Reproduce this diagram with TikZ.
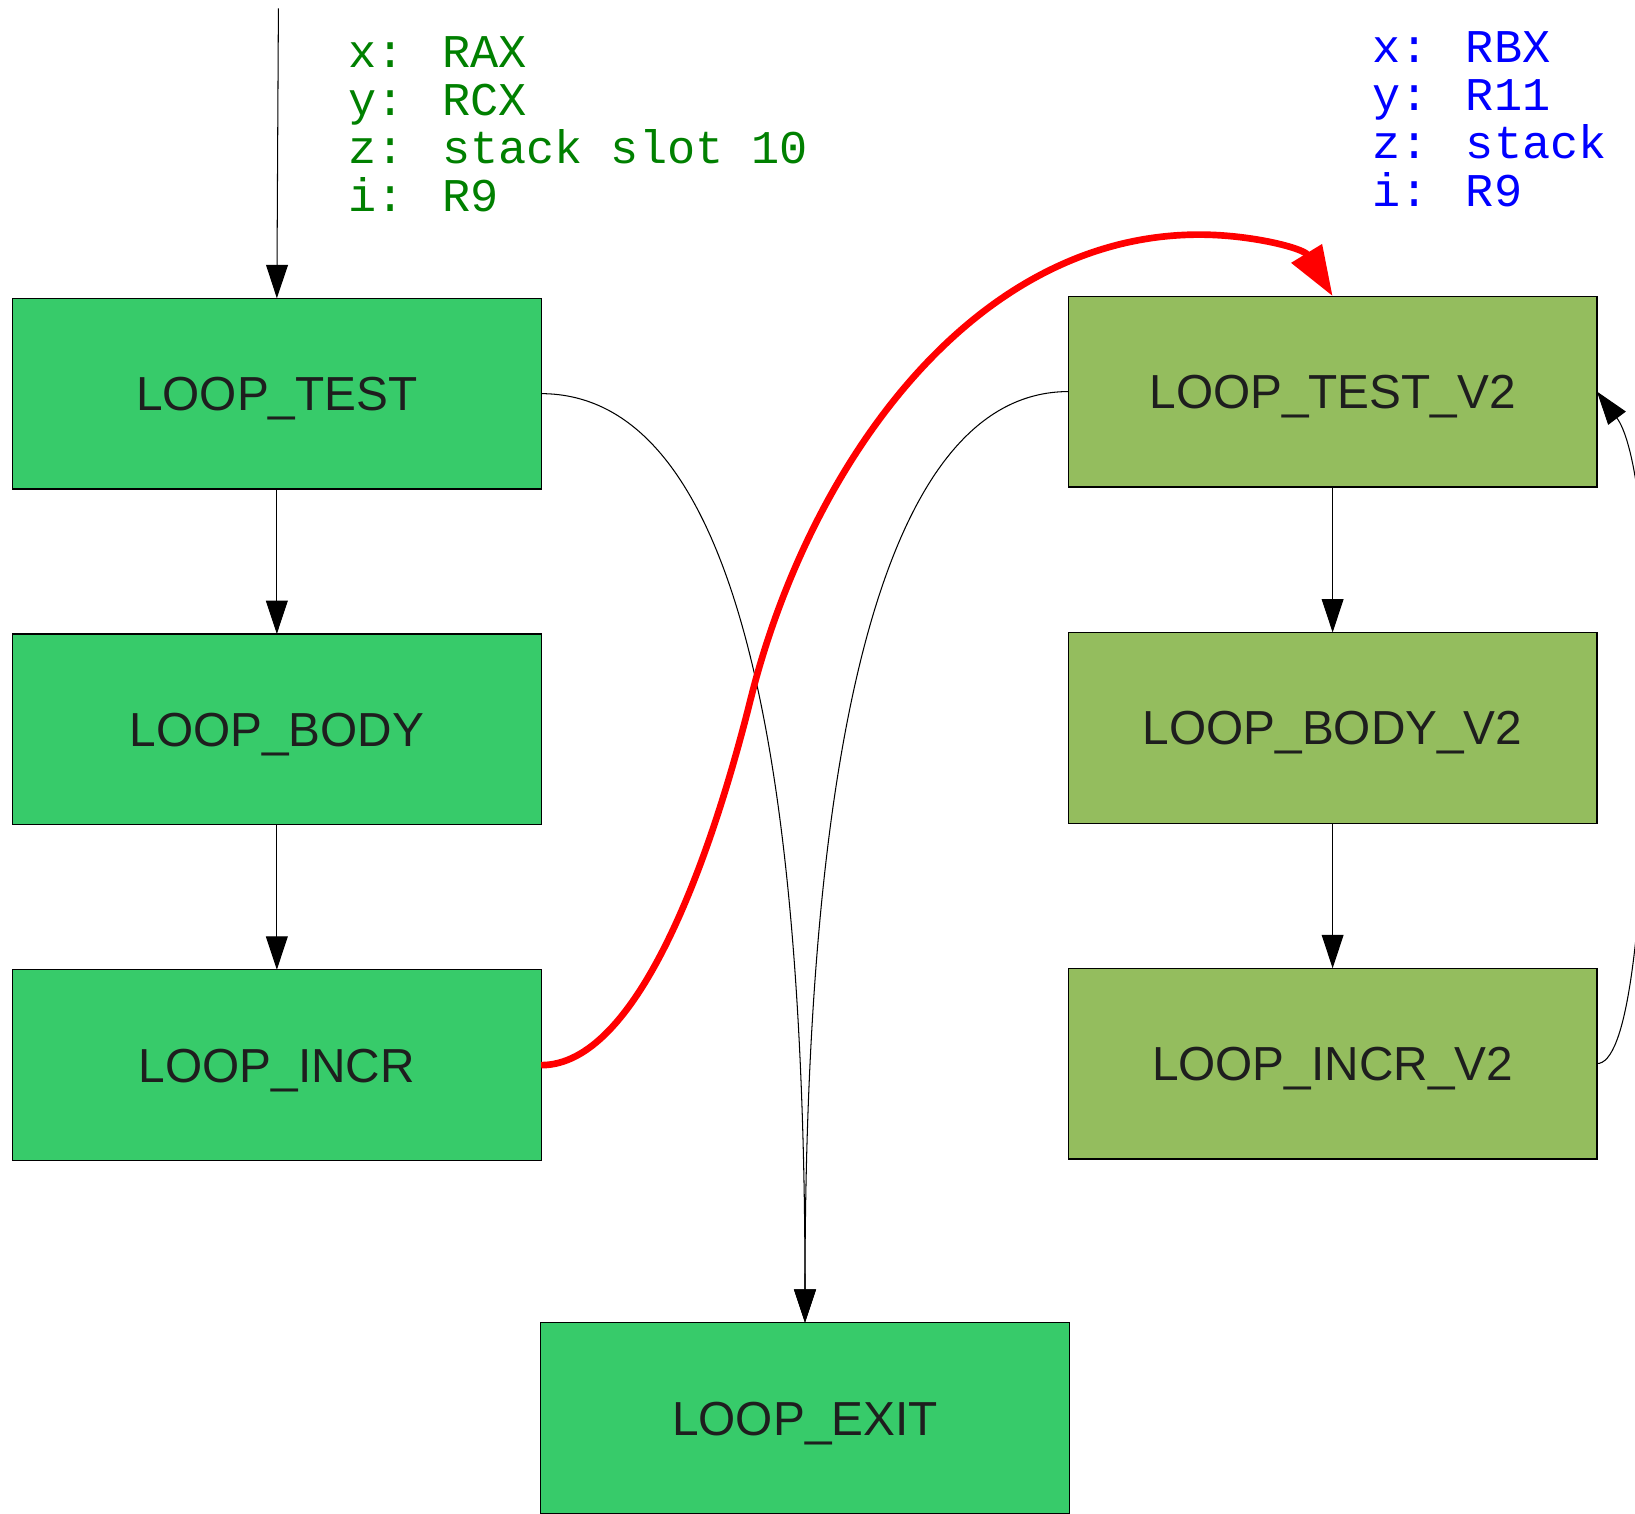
\documentclass[tikz,border=0pt]{standalone}
\usepackage{fontspec}
\setmainfont{Liberation Sans}
\newfontfamily\regmono{Liberation Mono}
\usetikzlibrary{arrows.meta}
\definecolor{boxgreen}{RGB}{55,203,106}
\definecolor{boxolive}{RGB}{148,189,94}
\definecolor{labelink}{RGB}{30,30,30}
\definecolor{greentext}{RGB}{0,128,0}
\definecolor{bluetext}{RGB}{0,0,255}
\begin{document}
\begin{tikzpicture}[x=0.5pt,y=-0.5pt,
  blockbox/.style={draw=black, line width=0.6pt, minimum width=253.5pt, minimum height=91.5pt,
    inner sep=0pt, outer sep=0pt, text=labelink, text height=16.4pt, text depth=0pt,
    font=\fontsize{22.9pt}{27pt}\selectfont},
  vone/.style={blockbox, fill=boxgreen},
  vtwo/.style={blockbox, fill=boxolive},
  edge/.style={line width=0.5pt, -{Triangle[length=16pt,width=10.5pt]}},
  redge/.style={draw=red, line width=3.2pt, -{Triangle[length=24pt,width=16.5pt]}},
  regtext/.style={anchor=base west, inner sep=0pt, font=\regmono\fontsize{22.5pt}{26pt}\selectfont}]
\useasboundingbox (0,0) rectangle (1568,1451);
\clip (0,0) rectangle (1568,1451);
\fill[white] (0,0) rectangle (1568,1451);

% boxes
\node[vone] (LT) at (265.5,377.5) {LOOP\_TEST};
\node[vone] (LB) at (265.5,699.5) {LOOP\_BODY};
\node[vone] (LI) at (265.5,1021.5) {LOOP\_INCR};
\node[vone] (LE) at (772,1360) {LOOP\_EXIT};
\node[vtwo] (T2) at (1278,375.5) {LOOP\_TEST\_V2};
\node[vtwo] (B2) at (1278,698) {LOOP\_BODY\_V2};
\node[vtwo] (I2) at (1278,1020) {LOOP\_INCR\_V2};

% register annotations
\node[regtext, text=greentext] (gx) at (333.5,64.5) {x: RAX};
\node[regtext, text=greentext] (gy) at (333.5,110.7) {y: RCX};
\node[regtext, text=greentext] (gz) at (333.5,156.9) {z: stack slot 10};
\node[regtext, text=greentext] (gi) at (333.5,203.1) {i: R9};
\node[regtext, text=bluetext] (bx) at (1315.5,60) {x: RBX};
\node[regtext, text=bluetext] (by) at (1315.5,106) {y: R11};
\node[regtext, text=bluetext] (bz) at (1315.5,152) {z: stack};
\node[regtext, text=bluetext] (bi) at (1315.5,198) {i: R9};

% entry
\coordinate (start) at (267,8);
\draw[edge] (start) -- (LT.north);

% straight edges
\draw[edge] (LT.south) -- (LB.north);
\draw[edge] (LB.south) -- (LI.north);
\draw[edge] (T2.south) -- (B2.north);
\draw[edge] (B2.south) -- (I2.north);

% exits
\draw[edge] (LT.east) .. controls (700,378) and (772,700) .. (LE.north);
\draw[edge] (T2.west) .. controls (850,376) and (772,700) .. (LE.north);

% back edge of V2 loop
\draw[edge] (I2.east) .. controls (1560,1020) and (1575,900) .. (1580,700)
  .. controls (1583,500) and (1565,420) .. (T2.east);

% red transfer edge
\draw[redge] (LI.east) .. controls (610,1021.5) and (680,830) .. (720,670)
  .. controls (775,450) and (930,225) .. (1150,225)
  .. controls (1200,225) and (1250,238) .. (T2.north);
\end{tikzpicture}
\end{document}
